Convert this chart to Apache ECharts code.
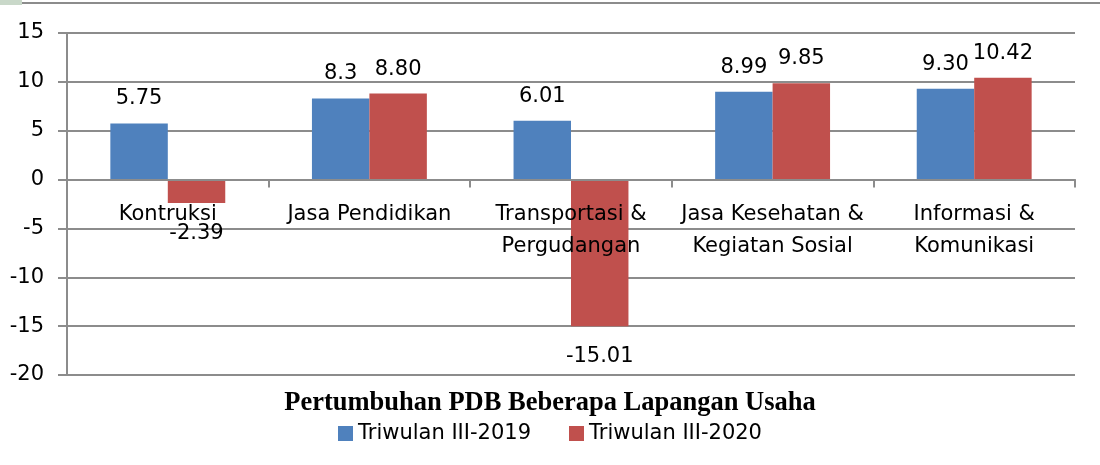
<!DOCTYPE html>
<html><head><meta charset="utf-8">
<script src="https://cdn.jsdelivr.net/npm/echarts@6/dist/echarts.min.js"></script>
<style>html,body{margin:0;padding:0;background:#fff}#c{width:1100px;height:465px}</style>
</head><body><div id="c"></div>
<script>
const categories = ['Kontruksi', 'Jasa Pendidikan', 'Transportasi &\nPergudangan', 'Jasa Kesehatan &\nKegiatan Sosial', 'Informasi &\nKomunikasi'];
const series2019 = [5.75, 8.3, 6.01, 8.99, 9.30];
const series2020 = [-2.39, 8.80, -15.01, 9.85, 10.42];
const labels2019 = ['5.75', '8.3', '6.01', '8.99', '9.30'];
const labels2020 = ['-2.39', '8.80', '-15.01', '9.85', '10.42'];
const seriesNames = ['Triwulan III-2019', 'Triwulan III-2020'];
const titleText = 'Pertumbuhan PDB Beberapa Lapangan Usaha';

const font = '"DejaVu Sans", sans-serif';
const fs = 21;
const grey = '#8c8c8c';
const chart = echarts.init(document.getElementById('c'));
function mk(vals, labs, name, color) {
  return {
    name, type: 'bar', barGap: '0%', barCategoryGap: '43%', z: 2,
    data: vals.map((v, i) => ({
      value: v,
      label: { show: true, position: v >= 0 ? 'top' : 'bottom', distance: v >= 0 ? 14 : 20,
        formatter: () => labs[i], color: '#000', fontSize: fs, fontFamily: font }
    })),
    itemStyle: { color },
    animation: false
  };
}
chart.setOption({
  animation: false,
  title: { text: titleText, left: 'center', top: 385,
    textStyle: { fontFamily: '"Liberation Serif", "Times New Roman", serif', fontWeight: 'bold', fontSize: 26.5, color: '#000' } },
  legend: { top: 418, left: 'center', itemWidth: 15, itemHeight: 15, itemGap: 38, icon: 'rect',
    textStyle: { fontSize: fs, fontFamily: font, color: '#000' }, data: seriesNames },
  grid: { left: 67, right: 25, top: 33, bottom: 90 },
  xAxis: { type: 'category', data: categories, z: 5,
    axisLine: { onZero: true, lineStyle: { color: grey, width: 2 } },
    axisTick: { show: true, length: 8, lineStyle: { color: grey, width: 2 } },
    axisLabel: { fontSize: fs, fontFamily: font, color: '#000', margin: -176, lineHeight: 32, interval: 0 },
    splitLine: { show: false } },
  yAxis: { type: 'value', min: -20, max: 15, interval: 5,
    axisLine: { show: true, lineStyle: { color: grey, width: 2 } },
    axisTick: { show: true, length: 9, lineStyle: { color: grey, width: 2 } },
    axisLabel: { fontSize: fs, fontFamily: font, color: '#000', margin: 23 },
    splitLine: { lineStyle: { color: grey, width: 2 } } },
  graphic: [
    { type: 'line', shape: { x1: 22, y1: 3, x2: 1100, y2: 3 }, style: { stroke: grey, lineWidth: 2 } },
    { type: 'rect', shape: { x: 0, y: 0, width: 22, height: 5 }, style: { fill: '#c9d8c9' } }
  ],
  series: [mk(series2019, labels2019, seriesNames[0], '#4F81BD'), mk(series2020, labels2020, seriesNames[1], '#C0504D')]
});
</script></body></html>
